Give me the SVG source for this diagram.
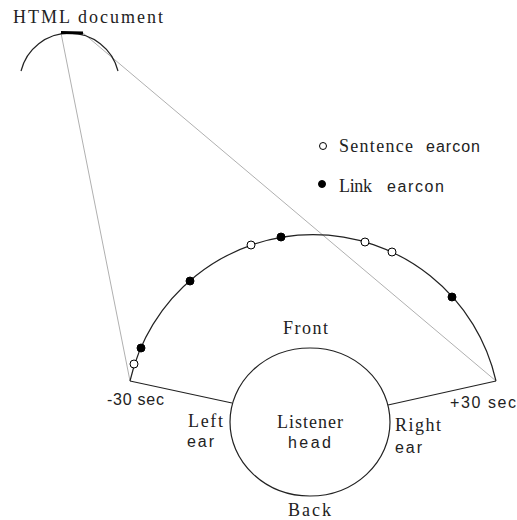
<svg xmlns="http://www.w3.org/2000/svg" width="517" height="520" viewBox="0 0 517 520">
<style>
.ln{fill:none;stroke:#222;stroke-width:1.2}
.gr{fill:none;stroke:#b0b0b0;stroke-width:1}
.se{font-family:"Liberation Serif",serif;font-size:18px;fill:#222}
.sa{font-family:"Liberation Sans",sans-serif;font-size:16px;fill:#222}
.op{fill:#fff;stroke:#000;stroke-width:1}
.fi{fill:#000;stroke:#000;stroke-width:1}
</style>
<rect width="517" height="520" fill="#fff"/>
<g id="connectors">
<line class="gr" x1="61" y1="33" x2="130" y2="381"/>
<line class="gr" x1="83" y1="33" x2="496" y2="381"/>
<line class="ln" x1="130" y1="381" x2="232" y2="403"/>
<line class="ln" x1="496" y1="381" x2="388" y2="405"/>
</g>
<g id="html-document">
<path class="ln" d="M21 71 A50 50 0 0 1 118 71"/>
<line x1="61" y1="32.5" x2="83" y2="33" stroke="#000" stroke-width="3"/>
<text class="se" x="13" y="23" font-size="19" textLength="150" lengthAdjust="spacing">HTML document</text>
</g>
<g id="legend">
<circle class="op" cx="323" cy="146" r="3.5"/>
<text class="se" x="339" y="152" textLength="74" lengthAdjust="spacing">Sentence</text>
<text class="sa" x="426" y="152" textLength="54" lengthAdjust="spacing">earcon</text>
<circle class="fi" cx="322" cy="184" r="3.5"/>
<text class="se" x="339" y="192" textLength="33" lengthAdjust="spacing">Link</text>
<text class="sa" x="387" y="192" textLength="57" lengthAdjust="spacing">earcon</text>
</g>
<g id="arc">
<path class="ln" d="M130 381 A187.6 187.6 0 0 1 496 381"/>
<circle class="op" cx="251" cy="245" r="4"/>
<circle class="fi" cx="281" cy="237" r="4"/>
<circle class="fi" cx="190" cy="281" r="4"/>
<circle class="fi" cx="141" cy="348" r="4"/>
<circle class="op" cx="134" cy="364" r="4"/>
<circle class="op" cx="365" cy="242" r="4"/>
<circle class="op" cx="392" cy="252" r="4"/>
<circle class="fi" cx="452" cy="297" r="4"/>
<text class="sa" x="107" y="405" textLength="57" lengthAdjust="spacing">-30 sec</text>
<text class="sa" x="450" y="408" textLength="66" lengthAdjust="spacing">+30 sec</text>
</g>
<g id="listener-head">
<ellipse class="ln" cx="310" cy="422" rx="80" ry="74"/>
<text class="se" x="283" y="334" textLength="45" lengthAdjust="spacing">Front</text>
<text class="se" x="277" y="428" textLength="66" lengthAdjust="spacing">Listener</text>
<text class="sa" x="288" y="448" textLength="43" lengthAdjust="spacing">head</text>
<text class="se" x="288" y="516" textLength="43" lengthAdjust="spacing">Back</text>
<text class="se" x="188" y="427" textLength="35" lengthAdjust="spacing">Left</text>
<text class="sa" x="187" y="447" textLength="27" lengthAdjust="spacing">ear</text>
<text class="se" x="395" y="431" textLength="46" lengthAdjust="spacing">Right</text>
<text class="sa" x="395" y="453" textLength="27" lengthAdjust="spacing">ear</text>
</g>
</svg>
